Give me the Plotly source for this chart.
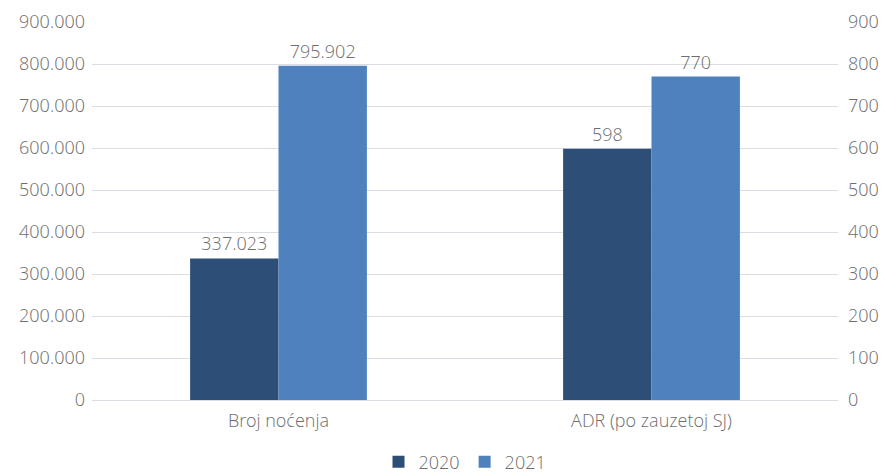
import plotly.graph_objects as go

categories = ["Broj noćenja", "ADR (po zauzetoj SJ)"]
years = ["2020", "2021"]
nights = [337023, 795902]      # Broj noćenja, 2020 / 2021 (left axis)
adr = [598, 770]               # ADR, 2020 / 2021 (right axis)
colors = ["#2d4f77", "#4e81bd"]

FONT = "Open Sans Light, Open Sans"
GRAY = "#6e6e6e"
TF = dict(family=FONT, size=18, color=GRAY, weight=300)

fig = go.Figure()
w = 0.237
for i, yr in enumerate(years):
    off = -w if i == 0 else 0
    fig.add_trace(go.Bar(
        x=[categories[0]], y=[nights[i]], name=yr, marker_color=colors[i],
        marker_line_width=0,
        width=w, offset=off, yaxis="y", legendgroup=yr, showlegend=True,
        texttemplate="%{y:,d}", textposition="outside", textfont=TF,
        cliponaxis=False, hoverinfo="skip"))
    fig.add_trace(go.Bar(
        x=[categories[1]], y=[adr[i]], name=yr, marker_color=colors[i],
        marker_line_width=0,
        width=w, offset=off, yaxis="y2", legendgroup=yr, showlegend=False,
        texttemplate="%{y:,d}", textposition="outside", textfont=TF,
        cliponaxis=False, hoverinfo="skip"))

fig.update_layout(
    template="none",
    width=884, height=475,
    margin=dict(l=92, r=46, t=22, b=75, autoexpand=False),
    paper_bgcolor="white", plot_bgcolor="white",
    separators=",.",
    font=TF,
    barmode="overlay",
    showlegend=True,
    legend=dict(orientation="h", x=0.5, xanchor="center", y=-0.115, yanchor="top",
                font=TF, traceorder="normal", bgcolor="rgba(0,0,0,0)"),
    xaxis=dict(type="category", showgrid=False, showline=False, ticks="",
               automargin=False, tickfont=TF, ticklabelstandoff=8),
    yaxis=dict(range=[0, 900000], dtick=100000, tickformat=",d",
               showgrid=True, gridcolor="#dcdce4", gridwidth=1,
               zeroline=True, zerolinecolor="#dcdce4", zerolinewidth=1,
               showline=False, ticks="", ticklabelstandoff=6, automargin=False,
               tickfont=TF),
    yaxis2=dict(range=[0, 900], dtick=100, tickformat=",d", overlaying="y", side="right",
                showgrid=False, zeroline=False, showline=False, ticks="", ticklabelstandoff=9,
                automargin=False, tickfont=TF),
)

fig.write_html("out.html", config={"displayModeBar": False},
               post_script="document.body.style.margin='0';document.body.style.padding='0';")
